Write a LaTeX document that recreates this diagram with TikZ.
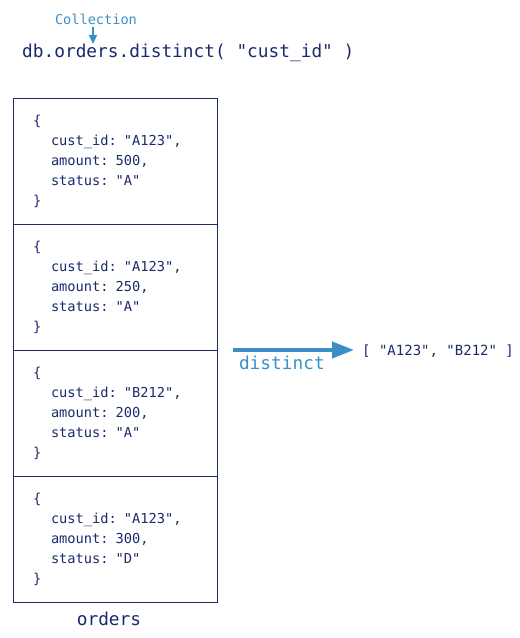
\documentclass[tikz,border=0pt]{standalone}
\usepackage{fontspec}
\setmonofont{DejaVu Sans Mono}
\usepackage{xcolor}
\usetikzlibrary{positioning,arrows.meta}
\definecolor{NavyDB}{HTML}{1B2A6B}
\definecolor{BlueDB}{HTML}{3B8FC7}
\newcommand\docbody[3]{\{\\\hspace*{18pt}cust\_id: "#1",\\\hspace*{18pt}amount: #2,\\\hspace*{18pt}status: "#3"\\\}}
\tikzstyle{docbox} = [rectangle, draw=NavyDB, line width=1pt, outer sep=0pt, minimum width=204pt, minimum height=126pt, text width=164pt, inner xsep=20pt, align=left, text=NavyDB, font=\ttfamily\fontsize{13.7}{20}\selectfont]
\tikzstyle{bigtext} = [inner sep=0pt, text=NavyDB, font=\ttfamily\fontsize{17.8}{20}\selectfont]
\tikzstyle{smalltext} = [inner sep=0pt, text=NavyDB, font=\ttfamily\fontsize{14}{16}\selectfont]
\tikzset{x=1pt, y=-1pt}

\begin{document}
\begin{tikzpicture}
\useasboundingbox (0,0) rectangle (520,638);
% documents of the collection
\node[docbox] (doc1) at (115,161) {\docbody{A123}{500}{A}};
\node[docbox, below=0pt of doc1] (doc2) {\docbody{A123}{250}{A}};
\node[docbox, below=0pt of doc2] (doc3) {\docbody{B212}{200}{A}};
\node[docbox, below=0pt of doc3] (doc4) {\docbody{A123}{300}{D}};
\node[bigtext, below=10pt of doc4, xshift=-6pt] (coll) {orders};
% query
\node[bigtext, anchor=west] (cmd) at (22,53) {db.orders.distinct( "cust\_id" )};
\node[smalltext, text=BlueDB, font=\ttfamily\fontsize{13.6}{16}\selectfont, inner sep=2pt] (colllabel) at (96,19) {Collection};
\draw[BlueDB, line width=1.2pt, -{Triangle[length=9pt,width=8pt]}] ([xshift=-3pt]colllabel.south) -- ([xshift=-3pt]colllabel.south |- cmd.north);
% result
\node[smalltext, anchor=west] (res) at (362,351) {[ "A123", "B212" ]};
\draw[BlueDB, line width=4pt, -{Triangle[length=22pt,width=16pt]}] ([xshift=16pt]doc2.south east) -- ([xshift=-8pt]doc2.south east -| res.west)
  node[pos=0, anchor=north west, bigtext, text=BlueDB, xshift=4pt, yshift=-4pt] {distinct};
\end{tikzpicture}
\end{document}
